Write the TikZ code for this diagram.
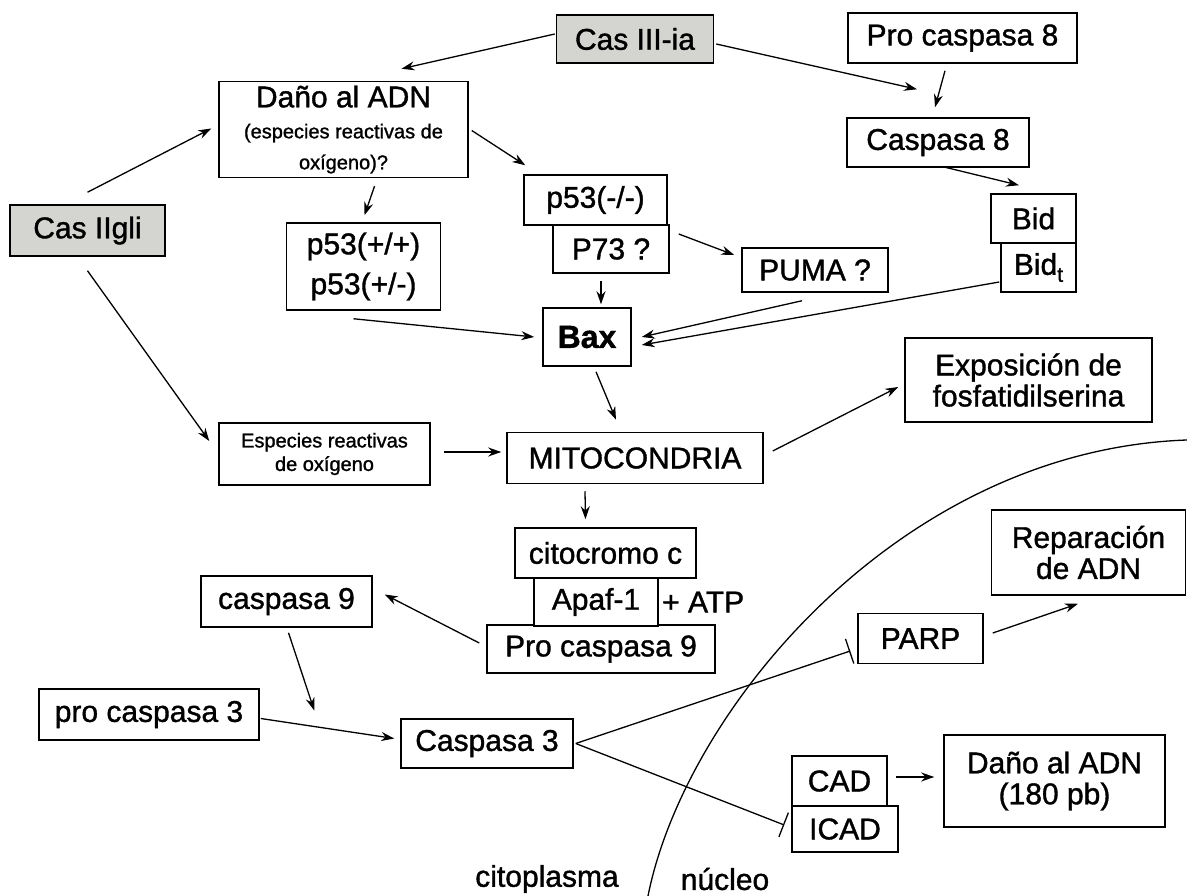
\documentclass[tikz,border=0pt]{standalone}
\usepackage{fontspec}
\setmainfont{Liberation Sans}[FakeBold=1.2]
\usetikzlibrary{arrows.meta,calc}
\definecolor{boxgray}{RGB}{212,212,208}
\newcommand{\bigf}{\fontsize{30}{31}\selectfont}
\newcommand{\smf}{\fontsize{20}{23.5}\selectfont}
\begin{document}
\begin{tikzpicture}[x=1pt,y=-1pt,
  box/.style={draw, line width=1.5pt, fill=white, inner sep=0pt, align=center, font=\bigf},
  gbox/.style={box, fill=boxgray},
  lbl/.style={inner sep=0pt, font=\bigf},
  arr/.style={line width=1.3pt, -{Stealth[length=13pt,width=9pt]}},
  inh/.style={line width=1.3pt, -{Bar[width=26pt,line width=1.3pt]}}]
\useasboundingbox (0,0) rectangle (1187,896);
% membrane
\draw[line width=1.3pt] (648,896) .. controls (685,710) and (900,450) .. (1187,440);
% nodes
\node[gbox, minimum width=157pt, minimum height=48pt] (cas3) at (635,39) {Cas III-ia};
\node[box, minimum width=229pt, minimum height=50pt] (pro8) at (962.5,38) {Pro caspasa 8};
\node[box, minimum width=182pt, minimum height=49pt] (c8) at (938,142.5) {Caspasa 8};
\node[box, minimum width=85pt, minimum height=49pt] (bid) at (1033.5,218.5) {Bid};
\node[box, minimum width=75pt, minimum height=49pt] (bidt) at (1038.5,267.5) {Bid\raisebox{-7pt}{\fontsize{21}{21}\selectfont t}};
\node[box, minimum width=249pt, minimum height=96pt] (dano) at (343.5,129.5)
  {\fontsize{30}{24}\selectfont Daño al ADN\\\smf (especies reactivas de\\\smf oxígeno)?};
\node[gbox, minimum width=155pt, minimum height=51pt] (cas2) at (87.5,230.5) {Cas IIgli};
\node[box, minimum width=143pt, minimum height=50pt] (p53mm) at (595.5,200) {p53(-/-)};
\node[box, minimum width=116pt, minimum height=48pt] (p73) at (611,249) {P73 ?};
\node[box, minimum width=154pt, minimum height=87pt, font=\fontsize{30}{40}\selectfont] (p53pp) at (363.5,266.5) {p53(+/+)\\p53(+/-)};
\node[box, minimum width=146pt, minimum height=44pt] (puma) at (815,270) {PUMA ?};
\node[box, minimum width=88pt, minimum height=58pt, font=\fontsize{32}{36}\selectfont\bfseries] (bax) at (587,337) {Bax};
\node[box, minimum width=247pt, minimum height=84pt] (expo) at (1028.5,380) {Exposición de\\fosfatidilserina};
\node[box, minimum width=211pt, minimum height=62pt, font=\smf] (esp) at (324.5,454) {Especies reactivas\\de oxígeno};
\node[box, minimum width=256pt, minimum height=51pt] (mito) at (635,458) {MITOCONDRIA};
\node[box, minimum width=228pt, minimum height=48pt] (pc9) at (601,649) {Pro caspasa 9};
\node[box, minimum width=181pt, minimum height=50pt] (cito) at (605.5,553) {citocromo c};
\node[box, minimum width=124pt, minimum height=48pt] (apaf) at (596,602) {Apaf-1};
\node[lbl, anchor=west] (atp) at (662,602) {+ ATP};
\node[box, minimum width=171pt, minimum height=51pt] (c9) at (286.5,601.5) {caspasa 9};
\node[box, minimum width=220pt, minimum height=51pt] (pc3) at (149,714.5) {pro caspasa 3};
\node[box, minimum width=172pt, minimum height=49pt] (c3) at (487,743.5) {Caspasa 3};
\node[box, minimum width=125pt, minimum height=50pt] (parp) at (920.5,638.5) {PARP};
\node[box, minimum width=194pt, minimum height=85pt] (rep) at (1088.5,552.5) {Reparación\\de ADN};
\node[box, minimum width=95pt, minimum height=50pt] (cad) at (839.5,781) {CAD};
\node[box, minimum width=106pt, minimum height=46pt] (icad) at (845,829) {ICAD};
\node[box, minimum width=221pt, minimum height=92pt] (d180) at (1054.5,781) {Daño al ADN\\(180 pb)};
\node[lbl] (citopl) at (547,879) {citoplasma};
\node[lbl] (nucleo) at (725,879) {núcleo};
% connectors
\draw[arr] ($(cas3.west)+(-1,-5)$) -- ($(dano.north)+(58,-12)$);
\draw[arr] ($(cas3.east)+(2,5)$) -- ($(c8.north)+(-21,-28)$);
\draw[arr] ($(pro8.south)+(-17.5,7)$) -- ($(c8.north)+(-3,-10)$);
\draw[arr] ($(c8.south)+(5,-1)$) -- ($(bid.north)+(-14.5,-8)$);
\draw[arr] ($(cas2.north)+(0,-12)$) -- ($(dano.west)+(-7,-1)$);
\draw[arr] ($(dano.east)+(3,1)$) -- ($(p53mm.north west)+(2,-9)$);
\draw[arr] ($(dano.south)+(31,8)$) -- ($(p53pp.north)+(1,-7)$);
\draw[arr] ($(cas2.south)+(0,14)$) -- ($(esp.west)+(-9,-13)$);
\draw[arr] ($(p53pp.south)+(-10,8)$) -- ($(bax.west)+(-8,0)$);
\draw[arr] ($(p73.south)+(-10,7)$) -- ($(bax.north)+(14,-3)$);
\draw[arr] ($(p73.east)+(9,-15)$) -- ($(puma.west)+(-7,-15)$);
\draw[arr] ($(puma.south)+(-13,8)$) -- ($(bax.east)+(10,0)$);
\draw[arr] ($(bidt.west)+(-1,14.5)$) -- ($(bax.east)+(10,8)$);
\draw[arr] ($(bax.south)+(9,5)$) -- ($(mito.north)+(-19,-12)$);
\draw[arr] ($(mito.east)+(9,-7)$) -- ($(expo.west)+(-6,7)$);
\draw[arr] ($(esp.east)+(13,-2)$) -- ($(mito.west)+(-5,-6)$);
\draw[arr] ($(mito.south)+(-50,7)$) -- ($(cito.north)+(-20,-8)$);
\draw[arr] ($(pc9.west)+(-7,-6)$) -- ($(c9.east)+(12,-7)$);
\draw[arr] ($(c9.south)+(2,5)$) -- ($(c3.west)+(-86,-33)$);
\draw[arr] ($(pc3.east)+(1,4)$) -- ($(c3.west)+(-6,-5)$);
\draw[inh] ($(c3.east)+(2,0)$) -- ($(parp.west)+(-7,12.5)$);
\draw[inh] ($(c3.east)+(2,0)$) -- ($(icad.west)+(-7,-4)$);
\draw[arr] ($(cad.east)+(8,-4)$) -- ($(d180.west)+(-9,-4)$);
\draw[arr] ($(parp.east)+(9,-5.5)$) -- ($(rep.south)+(-10.5,8)$);
\end{tikzpicture}
\end{document}
